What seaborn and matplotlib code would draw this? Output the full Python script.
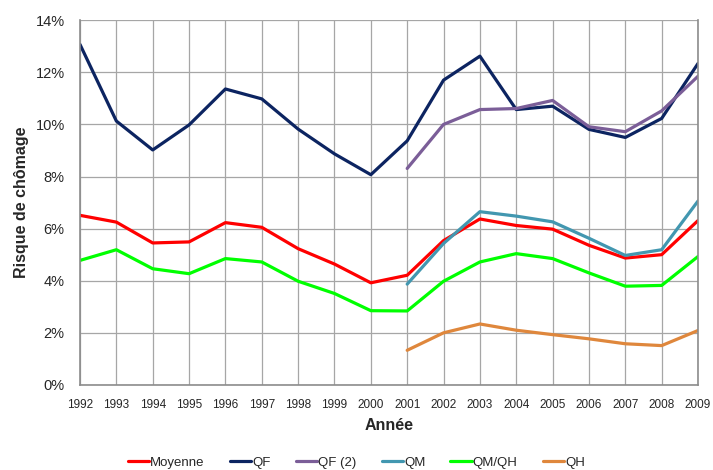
import numpy as np
import pandas as pd
import seaborn as sns
import matplotlib.pyplot as plt
from matplotlib.ticker import FuncFormatter

# Risque de chômage par année (en %)
annees = list(range(1992, 2010))
nan = np.nan

moyenne = [6.51, 6.25, 5.45, 5.49, 6.23, 6.05, 5.23, 4.64, 3.92,
           4.21, 5.54, 6.37, 6.12, 5.98, 5.36, 4.87, 5.00, 6.31]
qf = [13.07, 10.13, 9.02, 9.98, 11.36, 10.98, 9.82, 8.87, 8.07,
      9.37, 11.70, 12.62, 10.57, 10.70, 9.81, 9.50, 10.23, 12.34]
qf2 = [nan] * 9 + [8.31, 10.00, 10.57, 10.61, 10.92, 9.91, 9.72, 10.52, 11.85]
qm = [nan] * 9 + [3.87, 5.43, 6.65, 6.48, 6.26, 5.63, 4.97, 5.19, 7.06]
qm_qh = [4.78, 5.19, 4.46, 4.27, 4.85, 4.72, 3.98, 3.51, 2.85,
         2.84, 3.98, 4.72, 5.04, 4.85, 4.30, 3.79, 3.82, 4.93]
qh = [nan] * 9 + [1.33, 2.00, 2.34, 2.10, 1.93, 1.77, 1.58, 1.51, 2.09]

df = pd.DataFrame({"Année": annees, "Moyenne": moyenne, "QF": qf, "QF (2)": qf2,
                   "QM": qm, "QM/QH": qm_qh, "QH": qh})

couleurs = {"Moyenne": "#ff0000", "QF": "#0c2461", "QF (2)": "#7b5e98",
            "QM": "#4297b0", "QM/QH": "#00ff00", "QH": "#df873c"}

sns.set_style("white")
plt.rcParams["font.family"] = ["Liberation Sans", "DejaVu Sans"]

fig = plt.figure(figsize=(7.13, 4.70), dpi=100)
ax = fig.add_axes([0.1122, 0.181, 0.8668, 0.776])

for nom, coul in couleurs.items():
    sub = df[["Année", nom]].dropna()
    sns.lineplot(data=sub, x="Année", y=nom, color=coul, linewidth=2.3,
                 label=nom, ax=ax)

ax.set_xlim(1992, 2009)
ax.set_ylim(0, 14)
ax.set_xticks(annees)
ax.set_yticks(range(0, 15, 2))
ax.yaxis.set_major_formatter(FuncFormatter(lambda v, p: f"{v:.0f}%"))
ax.tick_params(axis="x", labelsize=8.5, length=4, color="#999999", pad=6)
ax.tick_params(axis="y", labelsize=10.5, length=4, color="#999999", pad=7)
ax.grid(True, color="#a6a6a6", linewidth=0.9)

for side in ["left", "bottom", "right"]:
    ax.spines[side].set_color("#8c8c8c")
    ax.spines[side].set_linewidth(1.2)
ax.spines["top"].set_visible(False)

ax.set_xlabel("Année", fontsize=11.5, fontweight="bold", labelpad=5)
ax.set_ylabel("Risque de chômage", fontsize=11.5, fontweight="bold", labelpad=5)

handles, labels = ax.get_legend_handles_labels()
ax.get_legend().remove()
fig.legend(handles, labels, loc="center", bbox_to_anchor=(0.5, 0.016), ncol=6,
           frameon=False, fontsize=9.5, handlelength=1.6, handletextpad=0.1,
           columnspacing=1.9)

fig.savefig("out.png", dpi=100)
